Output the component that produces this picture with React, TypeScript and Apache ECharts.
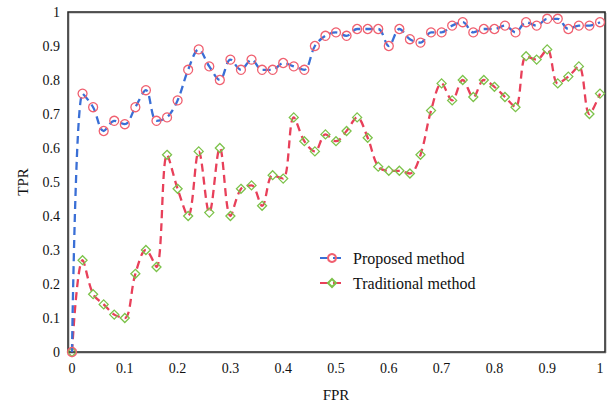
import React, { useEffect, useRef } from "react";
import * as echarts from "echarts";

const fpr = [0, 0.02, 0.04, 0.06, 0.08, 0.1, 0.12, 0.14, 0.16, 0.18, 0.2, 0.22, 0.24, 0.26, 0.28, 0.3, 0.32, 0.34, 0.36, 0.38, 0.4, 0.42, 0.44, 0.46, 0.48, 0.5, 0.52, 0.54, 0.56, 0.58, 0.6, 0.62, 0.64, 0.66, 0.68, 0.7, 0.72, 0.74, 0.76, 0.78, 0.8, 0.82, 0.84, 0.86, 0.88, 0.9, 0.92, 0.94, 0.96, 0.98, 1.0];
const proposedTPR = [0, 0.76, 0.72, 0.65, 0.68, 0.67, 0.72, 0.77, 0.68, 0.69, 0.74, 0.83, 0.89, 0.84, 0.8, 0.86, 0.83, 0.86, 0.83, 0.83, 0.85, 0.84, 0.83, 0.9, 0.93, 0.94, 0.93, 0.95, 0.95, 0.95, 0.9, 0.95, 0.92, 0.91, 0.94, 0.94, 0.96, 0.97, 0.94, 0.95, 0.95, 0.96, 0.94, 0.97, 0.96, 0.98, 0.98, 0.95, 0.96, 0.96, 0.97];
const traditionalTPR = [0, 0.27, 0.17, 0.14, 0.11, 0.1, 0.23, 0.3, 0.25, 0.58, 0.48, 0.4, 0.59, 0.41, 0.6, 0.4, 0.48, 0.49, 0.43, 0.52, 0.51, 0.69, 0.62, 0.59, 0.64, 0.62, 0.65, 0.69, 0.63, 0.545, 0.533, 0.533, 0.525, 0.58, 0.71, 0.79, 0.74, 0.8, 0.75, 0.8, 0.78, 0.75, 0.72, 0.87, 0.86, 0.89, 0.79, 0.81, 0.84, 0.7, 0.76];
const seriesNames = ["Proposed method", "Traditional method"];
const xAxisName = "FPR";
const yAxisName = "TPR";

const FONT = "'Liberation Serif', 'Times New Roman', serif";

export default function App() {
  const ref = useRef<HTMLDivElement>(null);
  useEffect(() => {
    if (!ref.current) return;
    const chart = echarts.init(ref.current, null, { renderer: "svg" });
    const pair = (ys: number[]) => fpr.map((x, i) => [x, ys[i]]);
    chart.setOption({
      animation: false,
      backgroundColor: "#ffffff",
      grid: { left: 72, right: 9, top: 12, bottom: 57, containLabel: false },
      xAxis: {
        type: "value",
        min: 0,
        max: 1,
        interval: 0.1,
        name: xAxisName,
        nameLocation: "middle",
        nameGap: 35,
        nameTextStyle: { fontFamily: FONT, fontSize: 15, color: "#111" },
        axisLine: { show: false },
        axisTick: { show: false },
        splitLine: { show: false },
        axisLabel: { fontFamily: FONT, fontSize: 14, color: "#111", margin: 9 },
      },
      yAxis: {
        type: "value",
        min: 0,
        max: 1,
        interval: 0.1,
        name: yAxisName,
        nameLocation: "middle",
        nameGap: 42,
        nameTextStyle: { fontFamily: FONT, fontSize: 15, color: "#111" },
        axisLine: { show: false },
        axisTick: { show: false },
        splitLine: { show: false },
        axisLabel: { fontFamily: FONT, fontSize: 14, color: "#111", margin: 12 },
      },
      legend: {
        orient: "vertical",
        left: 314,
        top: 245,
        itemWidth: 24,
        itemHeight: 10,
        itemGap: 9,
        textStyle: { fontFamily: FONT, fontSize: 16, color: "#111", padding: [0, 0, 0, 4] },
        data: seriesNames,
      },
      graphic: [
        {
          type: "rect",
          shape: { x: 69, y: 13, width: 537, height: 340 },
          style: { fill: "none", stroke: "#aaa", lineWidth: 1 },
          z: 0,
        },
        {
          type: "rect",
          shape: { x: 68, y: 12, width: 537, height: 340 },
          style: { fill: "none", stroke: "#222", lineWidth: 1.5 },
          z: 1,
        },
      ],
      series: [
        {
          name: seriesNames[0],
          type: "line",
          data: pair(proposedTPR),
          smooth: 0.35,
          symbol: "circle",
          symbolSize: 9,
          lineStyle: { color: "#3a6fd6", width: 2.3, type: [8, 5] },
          itemStyle: { color: "rgba(255,255,255,0)", borderColor: "#f06070", borderWidth: 1.3 },
          z: 3,
        },
        {
          name: seriesNames[1],
          type: "line",
          data: pair(traditionalTPR),
          smooth: 0.35,
          symbol: "diamond",
          symbolSize: 9,
          lineStyle: { color: "#e8405a", width: 2.3, type: [8, 5] },
          itemStyle: { color: "rgba(255,255,255,0)", borderColor: "#7cc24a", borderWidth: 1.3 },
          z: 2,
        },
      ],
    });
    return () => chart.dispose();
  }, []);
  return (
    <div
      ref={ref}
      style={{ position: "fixed", left: 0, top: 0, width: 609, height: 409, background: "#fff" }}
    />
  );
}
